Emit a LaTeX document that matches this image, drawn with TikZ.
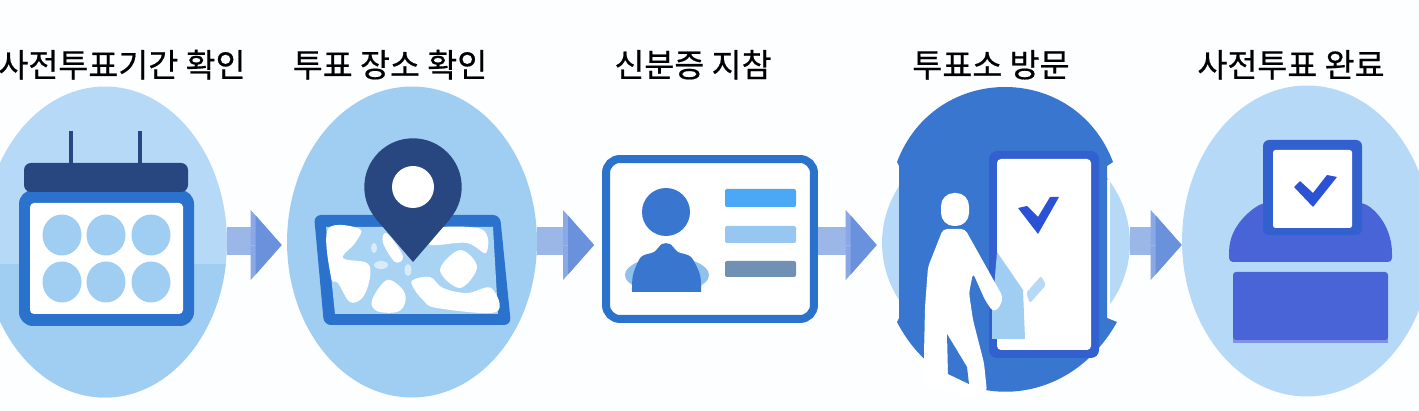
\documentclass[tikz,border=0pt]{standalone}
\usepackage{fontspec}
\newfontfamily\krfont[FakeBold=0.5]{Noto Sans CJK KR}
\usetikzlibrary{shapes.geometric,arrows.meta}

\definecolor{skylight}{HTML}{B7D9F8}
\definecolor{skymid}{HTML}{9FCEF2}
\definecolor{navy}{HTML}{28467F}
\definecolor{frameblue}{HTML}{2A72CC}
\definecolor{darkblue}{HTML}{3876CF}
\definecolor{royal}{HTML}{3360CF}
\definecolor{boxblue}{HTML}{4964D6}
\definecolor{shaftblue}{HTML}{9BB7E8}
\definecolor{headlight}{HTML}{8AA8E6}
\definecolor{headdark}{HTML}{6A92DC}
\definecolor{barone}{HTML}{4AA8F6}
\definecolor{bartwo}{HTML}{97C6F0}
\definecolor{barthree}{HTML}{7090B4}

\tikzset{
  stage/.style={ellipse,inner sep=0pt,minimum width=5cm,minimum height=6.22cm,fill=#1},
  steptext/.style={font=\krfont\fontsize{18.55pt}{22pt}\selectfont,anchor=base,text=black,inner sep=0pt},
  shaft/.style={line width=.56cm,shaftblue},
  headlow/.style={line width=.1pt,shaftblue,-{Triangle[length=.62cm,width=1.4cm,line width=0pt,color=headlight]}},
  headtop/.style={line width=.1pt,shaftblue,-{Triangle[length=.52cm,width=1.18cm,line width=0pt,color=headdark]}},
  whitebox/.style={fill=white,rounded corners=.08cm},
  dot/.style={fill=skymid},
}

% shaft, then the two layers of the head
\newcommand{\flowarrow}[3]{
  \draw[shaft,shorten >=#3+.62cm-.02cm] (#1.east |- shaftline) -- (#2.west |- shaftline);
  \draw[headlow,shorten >=#3] (#1.east |- headline) -- (#2.west |- headline);
  \draw[headtop,shorten >=#3] (#1.east |- headline) -- (#2.west |- headline);
}

\begin{document}
\begin{tikzpicture}[x=.02cm,y=-.02cm]

\useasboundingbox (0,0) rectangle (1419,411);
\clip (0,0) rectangle (1419,411);
\fill[white!98!skylight] (0,0) rectangle (1419,411);

\coordinate (shaftline) at (0,241);
\coordinate (headline) at (0,245);

% titulos
\node[steptext] (t1) at (122,77) {사전투표기간 확인};
\node[steptext] (t2) at (390,77) {투표 장소 확인};
\node[steptext] (t3) at (693,77) {신분증 지참};
\node[steptext] (t4) at (991,77) {투표소 방문};
\node[steptext] (t5) at (1291,77) {사전투표 완료};

% fundos
\node[stage=skylight,minimum width=4.88cm] (e1) at (105,242) {};
\begin{scope}
\clip (105,242) ellipse [x radius=122,y radius=155.5];
\fill[skymid] (-20,264) rectangle (240,400);
\end{scope}
\node[stage=skymid] (e2) at (412,242) {};
\node[stage=skylight,minimum width=4.96cm,minimum height=4.5cm] (e4) at (1006,243) {};
\node[stage=skylight] (e5) at (1307,241) {};
\node[rectangle,draw=frameblue,fill=white,line width=.16cm,rounded corners=.28cm,
  minimum width=4.16cm,minimum height=3.2cm] (card) at (710,239) {};

% setas
\flowarrow{e1}{e2}{.1cm}
\flowarrow{e2}{card}{.16cm}
\flowarrow{card}{e4}{.1cm}
\flowarrow{e4}{e5}{0cm}

% calendario
\draw[navy,line width=.07cm] (71,131) -- (71,165);
\draw[navy,line width=.07cm] (140,131) -- (140,165);
\fill[frameblue,rounded corners=.28cm] (19,190) rectangle (194,326);
\fill[navy,rounded corners=.14cm] (24,163) rectangle (188,192);
\fill[whitebox] (30,203) rectangle (183,314);
\fill[dot] (62,235) ellipse [x radius=19.5,y radius=20.5];
\fill[dot] (106,235) ellipse [x radius=19.5,y radius=20.5];
\fill[dot] (151,235) ellipse [x radius=19.5,y radius=20.5];
\fill[dot] (62,282) ellipse [x radius=19.5,y radius=20.5];
\fill[dot] (106,282) ellipse [x radius=19.5,y radius=20.5];
\fill[dot] (151,282) ellipse [x radius=19.5,y radius=20.5];

% mapa
\fill[frameblue,rounded corners=.14cm] (314,215) -- (500,215) -- (511,325) -- (324,325) -- cycle;
\fill[skymid!90!white] (326,227) -- (493,227) -- (498,314) -- (335,314) -- cycle;
\fill[white] plot[smooth cycle,tension=.6] coordinates {(328,229) (360,229) (355,243) (343,258) (367,263) (370,277) (363,297) (350,302) (338,283) (331,277)};
\fill[white] plot[smooth cycle,tension=.6] coordinates {(385,233) (383,243) (395,262) (403,257) (393,240)};
\fill[white] plot[smooth cycle,tension=.6] coordinates {(387,280) (403,290) (405,303) (397,312) (377,311) (372,300)};
\fill[white] plot[smooth cycle,tension=.6] coordinates {(413,280) (430,277) (443,288) (467,293) (491,288) (496,312) (437,308) (423,300) (413,287)};
\fill[white] plot[smooth cycle,tension=.6] coordinates {(460,250) (477,267) (460,288) (440,270)};
\fill[white] plot[smooth cycle,tension=.6] coordinates {(423,229) (481,229) (486,253) (467,243) (437,245) (427,243)};
\fill[skymid!40!white] (374,248) ellipse [x radius=3,y radius=5];
\fill[skymid!40!white] (381,265) ellipse [x radius=7,y radius=4];
\fill[skymid!40!white] (408,270) ellipse [x radius=3.5,y radius=6];
\fill[navy] (413,187) circle [radius=48.7];
\fill[navy] (413,262) -- (376,219) -- (450,219) -- cycle;
\fill[white] (413,187) circle [radius=21];

% identidade
\fill[darkblue] (666,212) circle [radius=24];
\begin{scope}
\clip (620,250) rectangle (715,292);
\fill[skymid!85!darkblue] (667,275) ellipse [x radius=42,y radius=18];
\end{scope}
\fill[darkblue] plot[smooth,tension=.5] coordinates {(632,292) (633,275) (641,257) (654,252) (662,244) (670,244) (678,252) (691,257) (700,275) (701,292)} -- cycle;
\fill[barone,rounded corners=.04cm] (725,189) rectangle (796,207);
\fill[bartwo,rounded corners=.04cm] (725,226) rectangle (796,243);
\fill[barthree,rounded corners=.04cm] (725,261) rectangle (796,277);

% visita
\draw[white,line width=.06cm] (1108,180) -- (1108,312);
\fill[darkblue] (897,162) .. controls (935,62) and (1075,62) .. (1113,162) -- (1107,166) -- (1107,318) -- (1117,322)
  .. controls (1065,415) and (945,415) .. (897,322) -- (899,318) -- (899,166) -- cycle;
\fill[royal,rounded corners=.16cm] (989,151) rectangle (1099,358);
\fill[whitebox] (997,159) rectangle (1091,350);
\fill[skymid] (997,252) -- (1023,290) -- (1025,339) -- (992,339) -- (992,313) -- cycle;
\fill[skylight,rounded corners=.04cm] (1026,293) -- (1041,276) -- (1046,285) -- (1030,303) -- cycle;
\fill[white,rounded corners=.26cm] (941,193) rectangle (969,226);
\fill[white,rounded corners=.08cm] (943,229) -- (965,229) -- (1003,297) -- (1000,307) -- (993,312) -- (985,300) -- (973,273)
  -- (969,293) -- (973,320) -- (984,363) -- (987,392) -- (970,398) -- (924,385) -- (924,355) -- (925,307) -- (928,267) -- cycle;
\fill[darkblue] (947,334) -- (967,367) -- (969,384) -- (948,374) -- cycle;
\fill[royal!85!blue,rounded corners=.01cm] (1018,208) -- (1027,206) -- (1038,217) -- (1050,197) -- (1059,197) -- (1038,234) -- cycle;

% urna
\fill[boxblue,rounded corners=.08cm] (1229,262) -- (1229,250) .. controls (1232,225) and (1250,210) .. (1263,203) -- (1363,203)
  .. controls (1376,210) and (1389,225) .. (1392,250) -- (1392,262) -- cycle;
\fill[royal,rounded corners=.12cm] (1263,140) rectangle (1362,235);
\fill[whitebox,rounded corners=.05cm] (1273,150) rectangle (1352,228);
\fill[royal!85!blue,rounded corners=.01cm] (1294,187) -- (1300,181) -- (1313,193) -- (1327,175) -- (1337,177) -- (1313,207) -- cycle;
\fill[boxblue!70!white] (1233,336) rectangle (1388,343);
\fill[boxblue,rounded corners=.06cm] (1233,272) rectangle (1388,340);

\end{tikzpicture}
\end{document}
